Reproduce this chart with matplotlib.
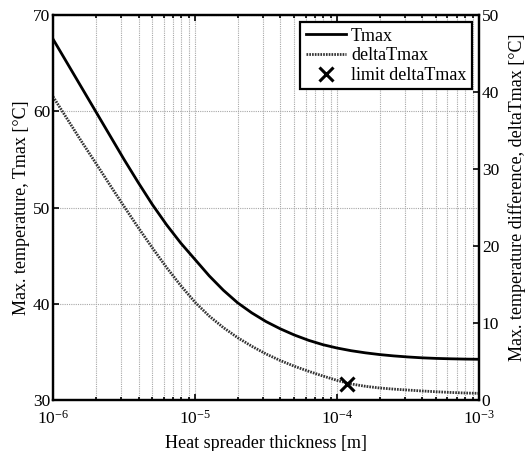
import numpy as np
import matplotlib
matplotlib.use("Agg")
import matplotlib.pyplot as plt
from matplotlib.ticker import LogLocator, NullFormatter, FixedLocator, FuncFormatter

plt.rcParams['font.family'] = ['Liberation Serif', 'DejaVu Serif']
plt.rcParams['mathtext.fontset'] = 'stix'

# Data (log10 of thickness in m, temperatures in degC)
logx = [-6.0, -5.9, -5.8, -5.7, -5.6, -5.5, -5.4, -5.3, -5.2, -5.1, -5.0,
        -4.9, -4.8, -4.7, -4.6, -4.5, -4.4, -4.3, -4.2, -4.1, -4.0,
        -3.9, -3.8, -3.7, -3.6, -3.5, -3.4, -3.3, -3.2, -3.1, -3.0]
tmax_vals = [67.5, 65.0, 62.5, 60.0, 57.5, 55.0, 52.6, 50.3, 48.2, 46.3, 44.6,
             42.9, 41.4, 40.1, 39.05, 38.15, 37.4, 36.75, 36.2, 35.75, 35.4,
             35.12, 34.9, 34.72, 34.58, 34.47, 34.38, 34.32, 34.28, 34.25, 34.23]
dt_vals = [39.4, 36.5, 33.6, 30.8, 27.95, 25.15, 22.4, 19.75, 17.2, 14.85, 12.7,
           10.9, 9.4, 8.1, 6.98, 5.98, 5.13, 4.38, 3.73, 3.12, 2.55,
           2.08, 1.78, 1.56, 1.41, 1.29, 1.17, 1.07, 0.98, 0.91, 0.86]

limit_x = 1.18e-4
limit_dt = 2.08

left_ticks = [30, 40, 50, 60, 70]
right_ticks = [0, 10, 20, 30, 40, 50]
x_major = [1e-6, 1e-5, 1e-4, 1e-3]

xs = [10 ** v for v in logx]

fig = plt.figure(figsize=(5.28, 4.51), dpi=100)
ax = fig.add_axes([0.1004, 0.1131, 0.8068, 0.8536])
ax2 = ax.twinx()

l1, = ax.plot(xs, tmax_vals, color='black', lw=2.0, label='Tmax')
l2, = ax2.plot(xs, dt_vals, color='#333333', lw=2.0, linestyle=(0, (0.6, 0.4)),
               label='deltaTmax')
l3, = ax2.plot([limit_x], [limit_dt], linestyle='none', marker='x', color='black',
               markersize=10, markeredgewidth=2.2, label='limit deltaTmax')

ax.set_xscale('log')
ax.set_xlim(1e-6, 1e-3)
ax.set_ylim(30, 70)
ax2.set_ylim(0, 50)
ax.set_yticks(left_ticks)
ax2.set_yticks(right_ticks)
ax.xaxis.set_major_locator(FixedLocator(x_major))
ax.xaxis.set_major_formatter(FuncFormatter(
    lambda v, p: r'$\mathregular{10^{%d}}$' % int(round(np.log10(v)))))
ax.xaxis.set_minor_locator(LogLocator(base=10, subs=np.arange(2, 10)))
ax.xaxis.set_minor_formatter(NullFormatter())

gkw = dict(color='#a8a8a8', linestyle=(0, (1, 1)), lw=0.8)
ax.grid(True, which='major', axis='both', **gkw)
ax.grid(True, which='minor', axis='x', **gkw)
ax.set_axisbelow(True)

ax.tick_params(axis='both', which='both', direction='in', labelsize=12.5,
               top=True, right=False, width=1.2, color='black')
ax.tick_params(axis='x', which='major', length=4, pad=7)
ax.tick_params(axis='x', which='minor', length=2.5)
ax.tick_params(axis='y', length=4, pad=2)
ax2.tick_params(axis='y', direction='in', labelsize=12.5, length=4, width=1.2, pad=2)

for a in (ax, ax2):
    for s in a.spines.values():
        s.set_linewidth(1.6)

ax.set_xlabel('Heat spreader thickness [m]', fontsize=13, labelpad=5)
ax.set_ylabel('Max. temperature, Tmax [°C]', fontsize=13, labelpad=2)
ax2.set_ylabel('Max. temperature difference, deltaTmax [°C]', fontsize=13)
ax2.yaxis.set_label_coords(1.068, 0.527)

leg = ax2.legend(handles=[l1, l2, l3], loc='upper right', fontsize=13,
                 fancybox=False, framealpha=1, edgecolor='black',
                 borderaxespad=0.4, handlelength=2.2, handletextpad=0.3,
                 borderpad=0.3, labelspacing=0.15)
leg.get_frame().set_linewidth(1.6)

fig.savefig('out.png', dpi=100)
